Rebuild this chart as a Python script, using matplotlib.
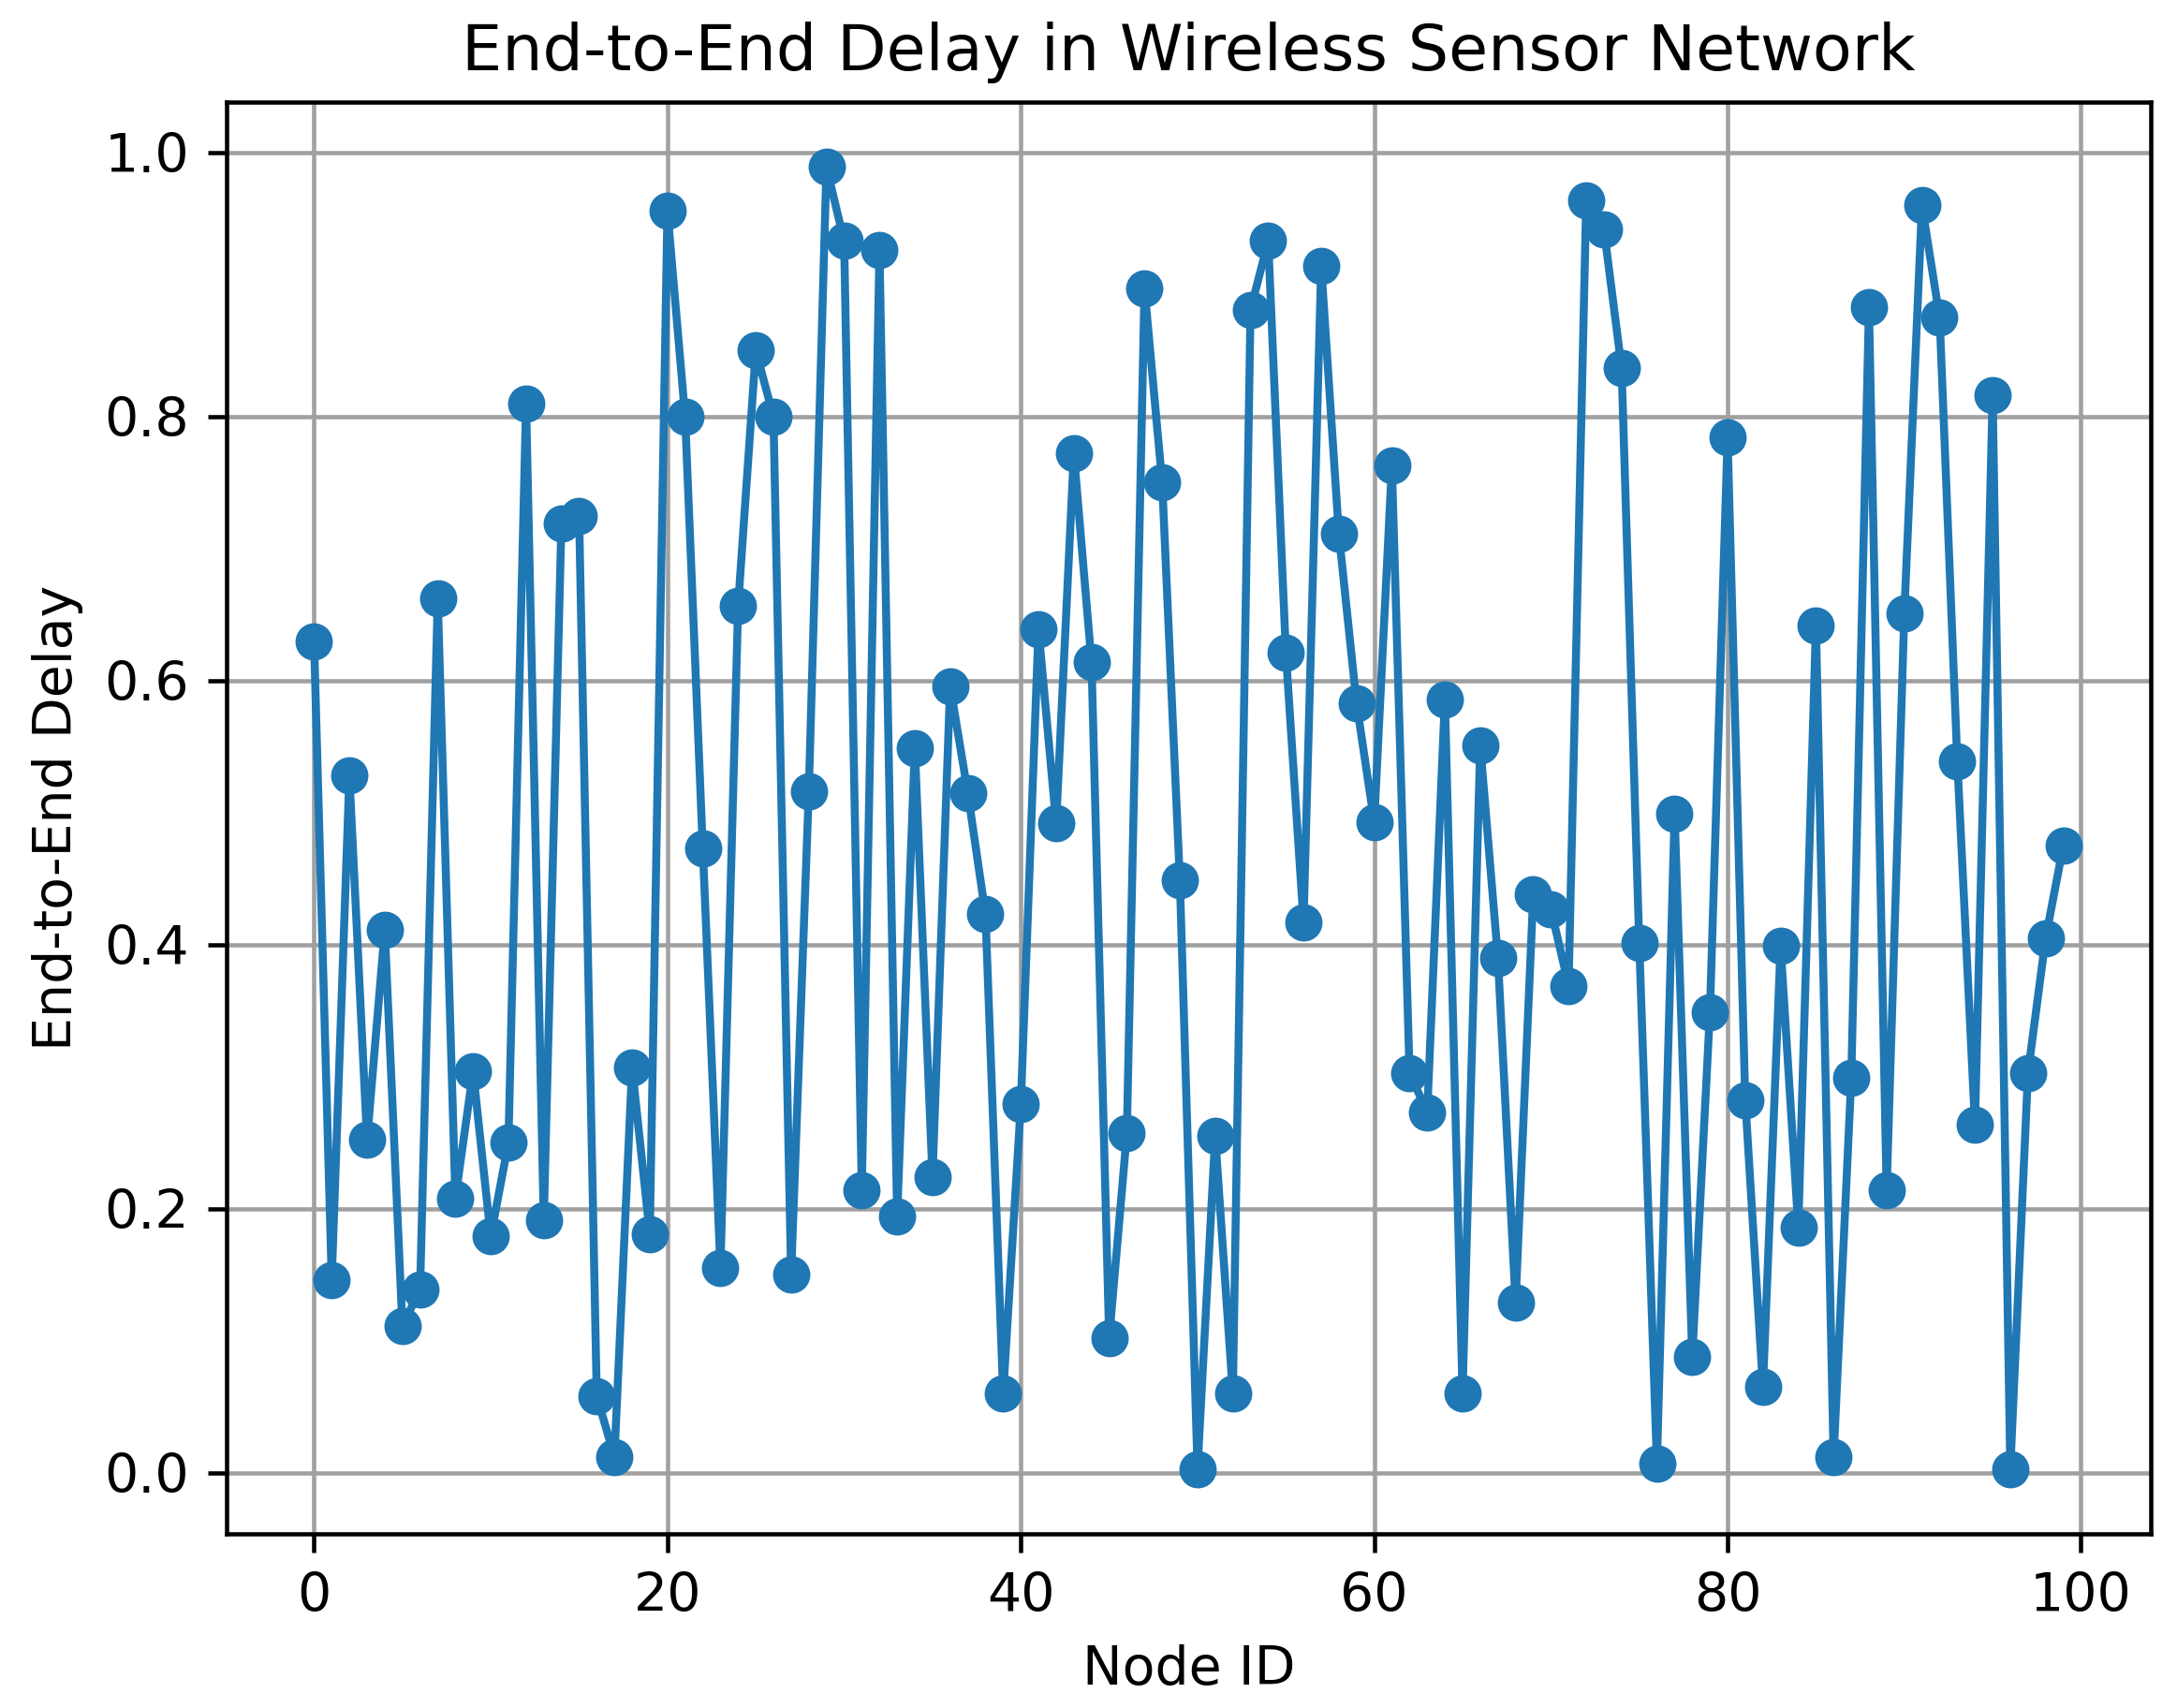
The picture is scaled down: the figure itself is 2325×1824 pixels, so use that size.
import matplotlib
matplotlib.use("Agg")
import matplotlib.pyplot as plt
import numpy as np

node_ids = list(range(100))
delays = [
    0.630, 0.146, 0.528, 0.252, 0.411, 0.111, 0.139, 0.662, 0.208, 0.304,
    0.179, 0.250, 0.810, 0.191, 0.719, 0.725, 0.058, 0.012, 0.307, 0.181,
    0.956, 0.800, 0.473, 0.155, 0.657, 0.850, 0.800, 0.150, 0.516, 0.989,
    0.933, 0.214, 0.926, 0.194, 0.549, 0.224, 0.596, 0.515, 0.423, 0.060,
    0.279, 0.639, 0.492, 0.772, 0.614, 0.102, 0.257, 0.897, 0.750, 0.449,
    0.003, 0.255, 0.060, 0.881, 0.933, 0.621, 0.417, 0.914, 0.711, 0.583,
    0.493, 0.763, 0.303, 0.273, 0.586, 0.060, 0.551, 0.390, 0.129, 0.438,
    0.427, 0.369, 0.964, 0.942, 0.837, 0.401, 0.007, 0.499, 0.088, 0.349,
    0.784, 0.282, 0.065, 0.399, 0.186, 0.642, 0.012, 0.299, 0.883, 0.214,
    0.651, 0.960, 0.875, 0.539, 0.264, 0.816, 0.003, 0.303, 0.405, 0.475,
]

title = "End-to-End Delay in Wireless Sensor Network"
xlabel = "Node ID"
ylabel = "End-to-End Delay"

dpi = 410
fig = plt.figure(figsize=(2325 / dpi, 1824 / dpi), dpi=dpi)
ax = fig.add_axes([242 / 2325, 1 - 1638 / 1824, (2297 - 242) / 2325, (1638 - 109) / 1824])
ax.plot(node_ids, delays, marker='o', color='#1f77b4')
ax.set_title(title, fontsize=12)
ax.set_xlabel(xlabel)
ax.set_ylabel(ylabel)
ax.grid(True, color='#a0a0a0')
fig.savefig("out.png", dpi=dpi)
